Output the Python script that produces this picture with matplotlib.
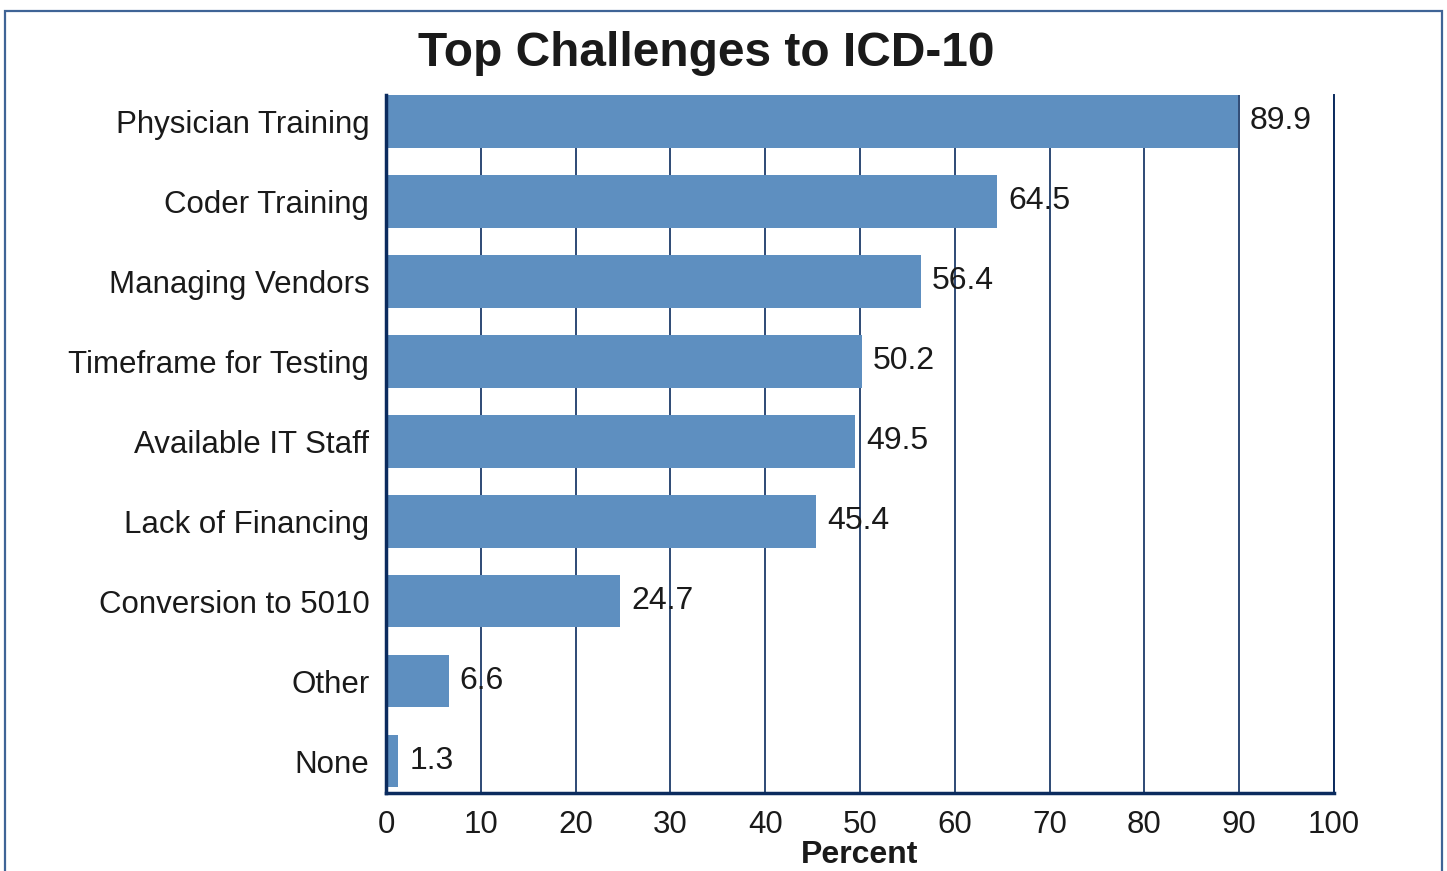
import matplotlib
matplotlib.use("Agg")
import matplotlib.pyplot as plt
from matplotlib.patches import Rectangle

categories = ["Physician Training", "Coder Training", "Managing Vendors",
              "Timeframe for Testing", "Available IT Staff", "Lack of Financing",
              "Conversion to 5010", "Other", "None"]
values = [89.9, 64.5, 56.4, 50.2, 49.5, 45.4, 24.7, 6.6, 1.3]
xticks = [0, 10, 20, 30, 40, 50, 60, 70, 80, 90, 100]

plt.rcParams['font.family'] = ['Liberation Sans', 'DejaVu Sans']

W, H = 1447, 871
fig = plt.figure(figsize=(W / 100, H / 100), dpi=100)
fig.patch.set_facecolor('white')

# outer border
fig.patches.append(Rectangle((5 / W, -0.05), (1442 - 5) / W, (H - 11) / H + 0.05,
                             transform=fig.transFigure, fill=False,
                             edgecolor='#3f6496', linewidth=1.6))

navy = '#0b2b5e'
ax = fig.add_axes([386 / W, (H - 793) / H, (1334 - 386) / W, (793 - 95) / H])
ypos = list(range(len(categories)))
bars = ax.barh(ypos, values, height=0.66, color='#5e8fc0', zorder=2)
ax.set_ylim(8.4, -0.33)
ax.set_xlim(0, 100)
ax.set_yticks(ypos)
ax.set_yticklabels(categories, fontsize=22.5, color='#1a1a1a')
ax.set_xticks(xticks)
ax.set_xticklabels([str(t) for t in xticks], fontsize=22.5, color='#1a1a1a')
ax.tick_params(axis='y', length=0, pad=12)
ax.tick_params(axis='x', length=0, pad=12)
ax.grid(axis='x', color=navy, linewidth=1.2, zorder=1)
ax.set_axisbelow(True)
ax.spines['top'].set_visible(False)
ax.spines['right'].set_color(navy)
ax.spines['right'].set_linewidth(1.4)
ax.spines['left'].set_color(navy)
ax.spines['left'].set_linewidth(2.5)
ax.spines['bottom'].set_color(navy)
ax.spines['bottom'].set_linewidth(2.5)

labs = ax.bar_label(bars, labels=[f"{v}" for v in values], padding=8, fontsize=23,
                    color='#1a1a1a', zorder=3)

ax.set_xlabel("Percent", fontsize=23, fontweight='bold', color='#1a1a1a', labelpad=0)
ax.xaxis.set_label_coords(0.5, -0.067)

fig.text(706 / W, 1 - 54 / H, "Top Challenges to ICD-10", fontsize=34.5,
         fontweight='bold', ha='center', va='center', color='#1a1a1a')

fig.savefig("out.png", dpi=100)
